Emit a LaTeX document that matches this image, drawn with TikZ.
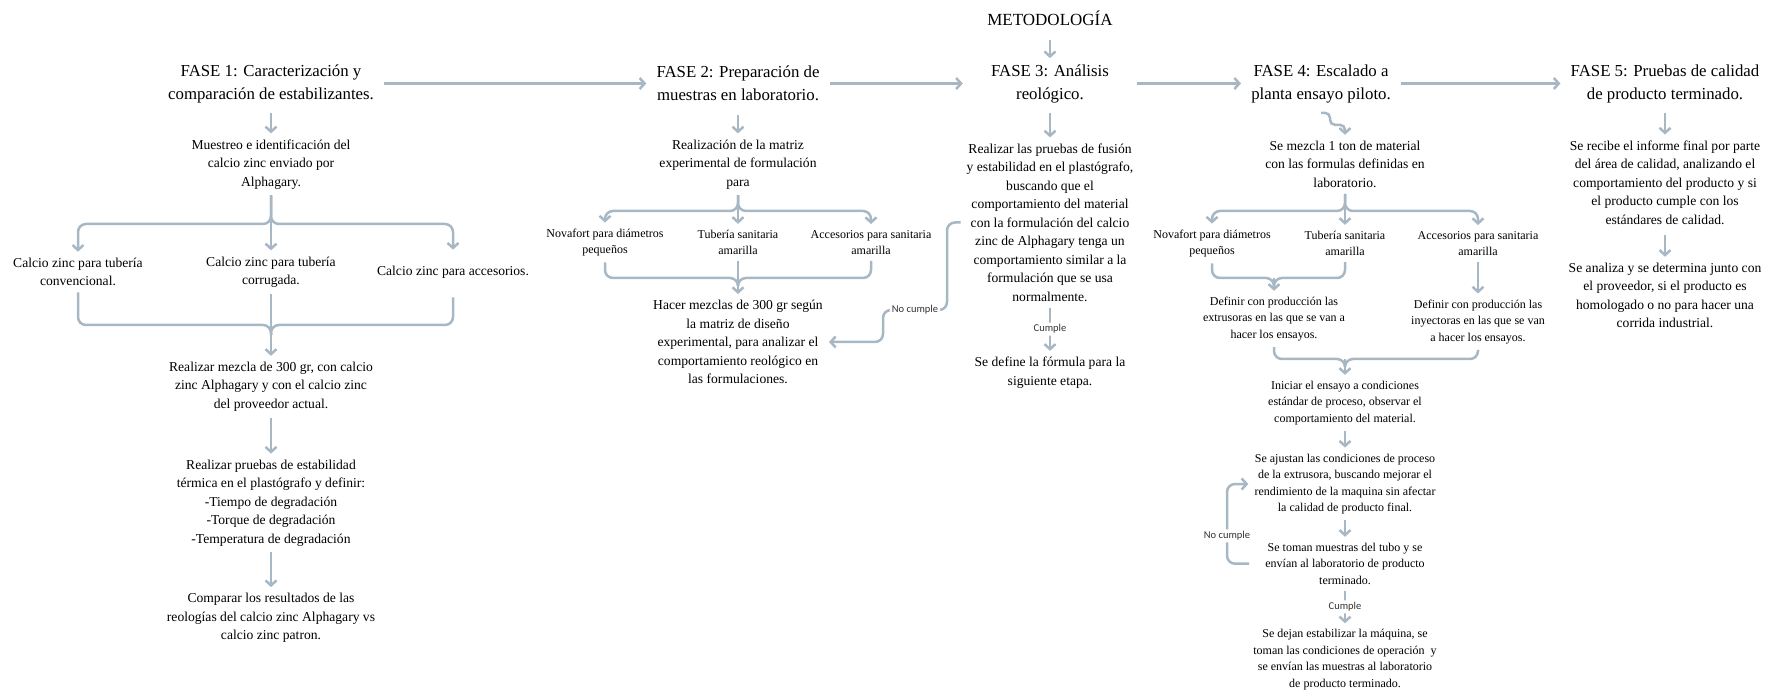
\documentclass[tikz,border=0pt]{standalone}
\usepackage{fontspec}
\setmainfont{Liberation Serif}
\newfontfamily\lblsans{Carlito}
\usetikzlibrary{arrows.meta}
\definecolor{flecha}{RGB}{168,183,196}
\tikzstyle{fase}=[align=center,inner sep=10pt,font=\fontsize{16.8}{23}\selectfont]
\tikzstyle{txt}=[align=center,inner sep=6pt,font=\fontsize{13.6}{18.5}\selectfont]
\tikzstyle{sml}=[align=center,inner sep=6pt,font=\fontsize{12}{16.5}\selectfont]
\tikzstyle{lbl}=[fill=white,inner sep=2pt,text=black!80,font=\lblsans\fontsize{10.5}{12}\selectfont]
\tikzstyle{ln}=[draw=flecha,line width=2.5pt,rounded corners=8pt]
\tikzstyle{arr}=[ln,-{Straight Barb[length=5pt,width=11pt]}]

\begin{document}
\begin{tikzpicture}[x=1pt,y=-1pt]
\useasboundingbox (0,0) rectangle (1783,692);
\node[fase,inner sep=6pt,font=\fontsize{17}{23}\selectfont] (metodo) at (1050,18) {METODOLOGÍA};
\node[fase] (fase1) at (271,83.5) {FASE 1: Caracterización y\\comparación de estabilizantes.};
\node[fase] (fase2) at (738,83.5) {FASE 2: Preparación de\\muestras en laboratorio.};
\node[fase,minimum width=174pt] (fase3) at (1050,83.5) {FASE 3: Análisis\\reológico.};
\node[fase] (fase4) at (1321,83.5) {FASE 4: Escalado a\\planta ensayo piloto.};
\node[fase] (fase5) at (1665,83.5) {FASE 5: Pruebas de calidad\\de producto terminado.};

% fase 1
\node[txt] (muestreo) at (271,164.3) {Muestreo e identificación del\\calcio zinc enviado por\\Alphagary.};
\node[txt] (conv) at (78,272) {Calcio zinc para tubería\\convencional.};
\node[txt] (corr) at (271,272) {Calcio zinc para tubería\\corrugada.};
\node[txt] (acce) at (453,272) {Calcio zinc para accesorios.};
\node[txt] (mezcla) at (271,386.7) {Realizar mezcla de 300 gr, con calcio\\zinc Alphagary y con el calcio zinc\\del proveedor actual.};
\node[txt] (pruebas) at (271,503) {Realizar pruebas de estabilidad\\térmica en el plastógrafo y definir:\\-Tiempo de degradación\\-Torque de degradación\\-Temperatura de degradación};
\node[txt] (compara) at (271,618) {Comparar los resultados de las\\reologías del calcio zinc Alphagary vs\\calcio zinc patron.};

% fase 2
\node[txt] (matriz) at (738,164.3) {Realización de la matriz\\experimental de formulación\\para};
\node[sml] (nov2) at (605,242.5) {Novafort para diámetros\\pequeños};
\node[sml] (tub2) at (738,242.5) {Tubería sanitaria\\amarilla};
\node[sml] (acc2) at (871,242.5) {Accesorios para sanitaria\\amarilla};
\node[txt] (hacer) at (738,342) {Hacer mezclas de 300 gr según\\la matriz de diseño\\experimental, para analizar el\\comportamiento reológico en\\las formulaciones.};

% fase 3
\node[txt] (fusion) at (1050,222.5) {Realizar las pruebas de fusión\\y estabilidad en el plastógrafo,\\buscando que el\\comportamiento del material\\con la formulación del calcio\\zinc de Alphagary tenga un\\comportamiento similar a la\\formulación que se usa\\normalmente.};
\node[txt] (define) at (1050,372.5) {Se define la fórmula para la\\siguiente etapa.};

% fase 4
\node[txt] (ton) at (1345,164.3) {Se mezcla 1 ton de material\\con las formulas definidas en\\laboratorio.};
\node[sml] (nov4) at (1212,243.5) {Novafort para diámetros\\pequeños};
\node[sml] (tub4) at (1345,243.5) {Tubería sanitaria\\amarilla};
\node[sml] (acc4) at (1478,243.5) {Accesorios para sanitaria\\amarilla};
\node[sml] (extr) at (1274,319) {Definir con producción las\\extrusoras en las que se van a\\hacer los ensayos.};
\node[sml] (inyec) at (1478,321.7) {Definir con producción las\\inyectoras en las que se van\\a hacer los ensayos.};
\node[sml] (iniciar) at (1345,403) {Iniciar el ensayo a condiciones\\estándar de proceso, observar el\\comportamiento del material.};
\node[sml] (ajustan) at (1345,484) {Se ajustan las condiciones de proceso\\de la extrusora, buscando mejorar el\\rendimiento de la maquina sin afectar\\la calidad de producto final.};
\node[sml] (toman) at (1345,563.7) {Se toman muestras del tubo y se\\envían al laboratorio de producto\\terminado.};
\node[sml] (dejan) at (1345,659.7) {Se dejan estabilizar la máquina, se\\toman las condiciones de operación\ \ y\\se envían las muestras al laboratorio\\de producto terminado.};

% fase 5
\node[txt] (informe) at (1665,182.6) {Se recibe el informe final por parte\\del área de calidad, analizando el\\comportamiento del producto y si\\el producto cumple con los\\estándares de calidad.};
\node[txt] (analiza) at (1665,295.5) {Se analiza y se determina junto con\\el proveedor, si el producto es\\homologado o no para hacer una\\corrida industrial.};

\coordinate (sp1) at (271,224);
\coordinate (mj1) at (271,325);
\coordinate (sp2) at (738,211);
\coordinate (mj2) at (738,278);
\coordinate (sp4) at (1345,211);
\coordinate (mj4) at (1274,278);
\coordinate (mj5) at (1345,359);
\coordinate (nc1) at (947,310);
\coordinate (nc2) at (883,310);
\coordinate (lp) at (1227,0);

\draw[arr,shorten <=8pt,shorten >=-4pt] (metodo) -- (fase3);
\draw[arr] (fase1) -- (fase2);
\draw[arr] (fase2) -- (fase3);
\draw[arr] (fase3) -- (fase4);
\draw[arr] (fase4) -- (fase5);

\draw[arr] (fase1) -- (muestreo);
\draw[arr] (muestreo) -- (corr);
\draw[arr] (muestreo) -- (sp1) -| (conv);
\draw[arr,shorten >=10pt] (muestreo) -- (sp1) -| (acce);
\draw[ln] (conv) |- (mj1) -- ++(0,10);
\draw[ln,shorten <=13pt] (acce) |- (mj1) -- ++(0,10);
\draw[arr] (corr) -- (mezcla);
\draw[arr] (mezcla) -- (pruebas);
\draw[arr] (pruebas) -- (compara);

\draw[arr,shorten <=4pt] (fase2) -- (matriz);
\draw[arr] (matriz) -- (tub2);
\draw[arr] (matriz) -- (sp2) -| (nov2);
\draw[arr] (matriz) -- (sp2) -| (acc2);
\draw[ln] (nov2) |- (mj2) -- ++(0,8);
\draw[ln] (acc2) |- (mj2) -- ++(0,8);
\draw[arr] (tub2) -- (hacer);

\draw[arr] (fase3) -- (fusion);
\draw[arr] (fusion) -- node[lbl]{Cumple} (define);
\draw[arr] (fusion.west) -| (nc1) -- node[lbl]{No cumple} (nc2) |- (hacer.east);

\draw[arr,rounded corners=5pt] (fase4.south) -| ++(9,12) -| (ton.north);
\draw[arr] (ton) -- (tub4);
\draw[arr] (ton) -- (sp4) -| (nov4);
\draw[arr] (ton) -- (sp4) -| (acc4);
\draw[ln] (nov4) |- (mj4) -- ++(0,8);
\draw[ln] (tub4) |- (mj4) -- ++(0,8);
\draw[arr] (mj4) -- (extr);
\draw[arr] (acc4) -- (inyec);
\draw[ln] (extr) |- (mj5) -- ++(0,8);
\draw[ln] (inyec) |- (mj5) -- ++(0,8);
\draw[arr] (mj5) -- (iniciar);
\draw[arr] (iniciar) -- (ajustan);
\draw[arr] (ajustan) -- (toman);
\draw[arr,shorten <=10pt] (toman.west) -- (toman.west -| lp) -- node[lbl,pos=0.35]{No cumple} (ajustan.west -| lp) -- (ajustan.west);
\draw[arr] (toman) -- node[lbl]{Cumple} (dejan);

\draw[arr] (fase5) -- (informe);
\draw[arr,shorten <=4pt] (informe) -- (analiza);
\end{tikzpicture}
\end{document}
